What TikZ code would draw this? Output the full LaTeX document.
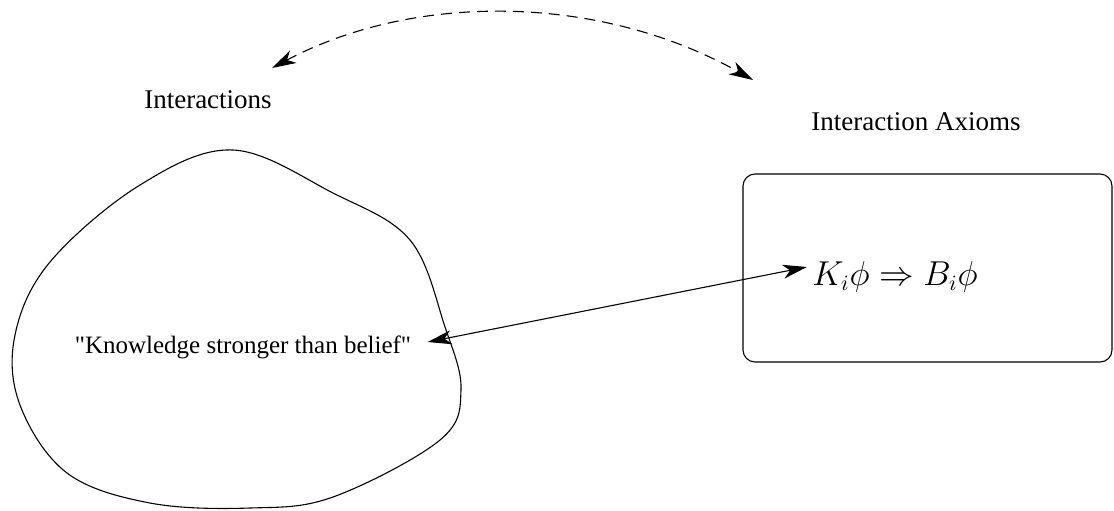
\documentclass[tikz,border=0pt]{standalone}
\usepackage{fontspec}
\setmainfont{Liberation Serif}
\usetikzlibrary{arrows.meta}

\begin{document}
\begin{tikzpicture}[
  x=0.5pt, y=-0.5pt, % one unit per pixel, y runs downward
  line join=round,
  line width=0.55pt,
  title/.style={font=\fontsize{13.5}{16}\selectfont, inner sep=0pt},
  twoway/.style={{Stealth[length=12pt, width=7pt, inset=3.5pt]}-{Stealth[length=12pt, width=7pt, inset=3.5pt]}},
  dashline/.style={dash pattern=on 5.5pt off 3.5pt}
]
  % ---- page frame ----
  \useasboundingbox (0,0) rectangle (1114,510);

  % ---- headings ----
  \node[title] (inter) at (208,100) {Interactions};
  \node[title] (axioms) at (916,122) {Interaction Axioms};

  % ---- dashed link between the two headings ----
  \coordinate (arcL) at (272,68);
  \coordinate (arcR) at (753,80);
  \draw[twoway, dashline] (arcL) .. controls (415,-8) and (600,-6) .. (arcR);

  % ---- blob of interactions ----
  \draw plot[smooth cycle, tension=0.6] coordinates {
    (233,150) (333,193) (410,240) (445,327) (461,390) (440,440)
    (333,497) (250,508) (150,503) (67,473) (20,405) (15,335)
    (50,262) (140,185)
  };
  \node[font=\fontsize{12.5}{15}\selectfont, inner xsep=8pt] (kb) at (243,347)
    {\textquotedbl Knowledge stronger than belief\textquotedbl};

  % ---- box of axioms ----
  \node[draw, rounded corners=6pt, minimum width=184.5pt, minimum height=94pt,
    inner sep=0pt] (axbox) at (927.5,268) {};
  \node[font=\fontsize{16}{19}\selectfont, inner xsep=2.5pt] (ax) at (895,277)
    {$K_i\phi \Rightarrow B_i\phi$};

  % ---- axiom <-> interaction ----
  \draw[twoway] ([yshift=2.5pt]kb.east) -- ([yshift=5pt]ax.west);

\end{tikzpicture}
\end{document}
